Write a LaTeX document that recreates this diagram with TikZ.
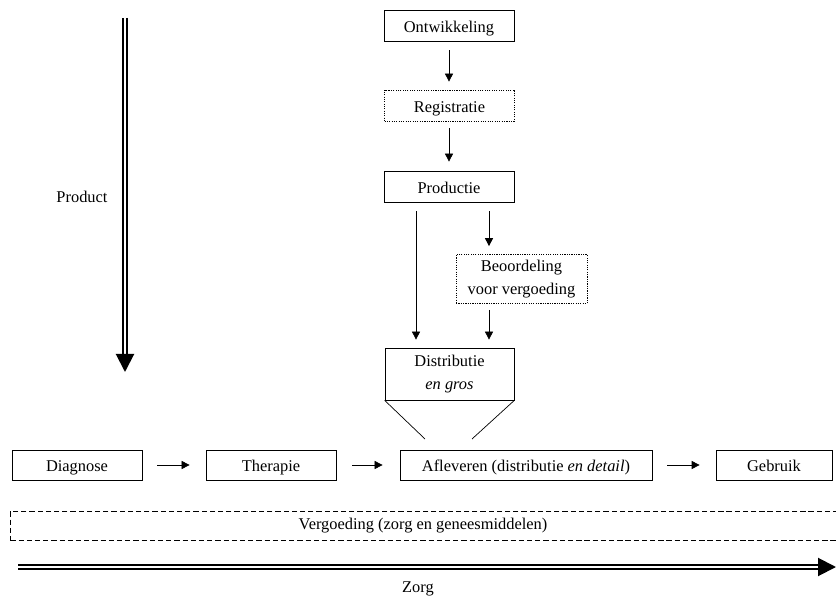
\documentclass[tikz,border=0pt]{standalone}
\usepackage{fontspec}
\setmainfont{Liberation Serif}
\usepackage{tikz}
\usetikzlibrary{positioning,arrows.meta,calc}
\usepackage{xcolor}

\begin{document}
\begin{tikzpicture}[x=0.03cm,y=-0.03cm,>={Triangle[length=2.4mm,width=2.4mm]},
  font=\fontsize{14}{19}\selectfont,
  frame/.style={draw,line width=0.6pt,minimum width=3.9cm,minimum height=0.93cm,inner sep=2pt},
  box/.style={frame,text height=13pt,text depth=1.5pt},
  dotbox/.style={box,dash pattern=on 1pt off 1pt},
  flow/.style={->,line width=0.6pt},
  bigarrow/.style={double,line width=0.6mm,double distance=0.35mm,-{Triangle[length=5.4mm,width=5.4mm]}}]
\useasboundingbox (0,0) rectangle (836,596);
% product chain
\node[box] (ont) at (449,25.5) {Ontwikkeling};
\node[dotbox] (reg) at (449.5,105.5) {Registratie};
\node[box] (prod) at (449,186.5) {Productie};
\node[frame,dash pattern=on 1pt off 1pt,align=center,minimum width=3.93cm,minimum height=1.47cm] (beo) at (521.5,279) {Beoordeling\\voor vergoeding};
\node[frame,align=center,minimum width=3.87cm,minimum height=1.56cm] (dist) at (449.5,374) {Distributie\\\textit{en gros}};
\draw[flow] ($(ont.south)+(0,9)$) -- ($(reg.north)+(-0.5,-8)$);
\draw[flow] ($(reg.south)+(-0.5,7)$) -- ($(prod.north)+(0,-9)$);
\draw[flow] ($(prod.south)+(-33,9)$) -- ($(dist.north)+(-33.5,-8)$);
\draw[flow] ($(prod.south)+(40,9)$) -- ($(beo.north)+(-32.5,-8)$);
\draw[flow] ($(beo.south)+(-32.5,6)$) -- ($(dist.north)+(39.5,-8)$);
% zorg chain
\node[box,minimum height=0.9cm] (diag) at (77,465) {Diagnose};
\node[box,minimum height=0.9cm] (ther) at (271,465) {Therapie};
\node[box,minimum height=0.9cm,minimum width=7.56cm] (afl) at (526,465) {Afleveren (distributie \textit{en detail})};
\node[box,minimum height=0.9cm,minimum width=3.48cm] (gebr) at (774,465) {Gebruik};
\draw[flow] ($(diag.east)+(15,0)$) -- ($(ther.west)+(-16,0)$);
\draw[flow] ($(ther.east)+(16,0)$) -- ($(afl.west)+(-17,0)$);
\draw[flow] ($(afl.east)+(15,0)$) -- ($(gebr.west)+(-16,0)$);
% funnel
\coordinate (fl) at (425,439);
\coordinate (fr) at (472,439);
\draw[line width=0.6pt] (dist.south west) -- (fl);
\draw[line width=0.6pt] (dist.south east) -- (fr);
% vergoeding
\node[draw,line width=0.6pt,dash pattern=on 4.5pt off 2.5pt,minimum width=24.9cm,minimum height=0.87cm,anchor=west] (verg) at (10,525.5) {};
\node (vergt) at (423,526) {Vergoeding (zorg en geneesmiddelen)};
% axes
\coordinate (ztop) at (18,567);
\coordinate (zend) at (836,567);
\draw[bigarrow] (ztop) -- (zend);
\node (zorg) at (418,589) {Zorg};
\coordinate (ptop) at (125,18);
\coordinate (pend) at (125,372);
\draw[bigarrow] (ptop) -- (pend);
\node (product) at (82,197) {Product};
\end{tikzpicture}
\end{document}
